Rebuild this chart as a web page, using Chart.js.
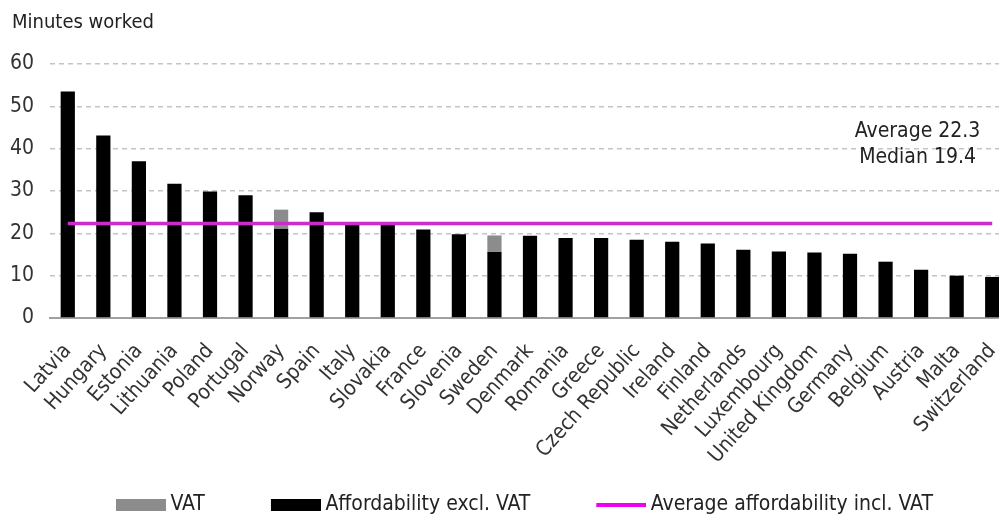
<!DOCTYPE html>
<html>
<head>
<meta charset="utf-8">
<script src="https://cdn.jsdelivr.net/npm/chart.js@4"></script>
<style>
  html, body { margin: 0; padding: 0; background: #fff; overflow: hidden; }
  #wrap { position: absolute; left: 0; top: 0; width: 1010px; height: 521px; }
</style>
</head>
<body>
<div id="wrap"><canvas id="chart"></canvas></div>
<script>
// --- DATA ---
const countries = ['Latvia', 'Hungary', 'Estonia', 'Lithuania', 'Poland', 'Portugal', 'Norway', 'Spain', 'Italy',
    'Slovakia', 'France', 'Slovenia', 'Sweden', 'Denmark', 'Romania', 'Greece', 'Czech Republic', 'Ireland',
    'Finland', 'Netherlands', 'Luxembourg', 'United Kingdom', 'Germany', 'Belgium', 'Austria', 'Malta', 'Switzerland'];

const exclVat = [53.5, 43.1, 37.0, 31.7, 29.9, 29.0, 21.1, 25.0, 22.3,
    22.2, 20.9, 19.8, 15.6, 19.4, 18.9, 18.9, 18.5, 18.0,
    17.6, 16.1, 15.7, 15.5, 15.2, 13.3, 11.4, 10.0, 9.7];

const vat = [0, 0, 0, 0, 0, 0, 4.5, 0, 0,
    0, 0, 0, 3.9, 0, 0, 0, 0, 0,
    0, 0, 0, 0, 0, 0, 0, 0, 0];

const averageInclVat = 22.3;
const medianInclVat = 19.4;
const averageLine = [
    { x: 'Latvia', y: averageInclVat },
    { x: 'Switzerland', y: averageInclVat }
];

const yTicks = [0, 10, 20, 30, 40, 50, 60];
const legendOrder = ['VAT', 'Affordability excl. VAT', 'Average affordability incl. VAT'];

const FONT = 'DejaVu Sans Condensed';
const SWATCH_SPACE = 100; // room each legend item keeps in front of its text

// legend swatch: 50px box (or line) at the right end of a wider transparent image
function swatch(color, h) {
    const c = document.createElement('canvas');
    c.width = SWATCH_SPACE + 12;
    c.height = h;
    const g = c.getContext('2d');
    g.fillStyle = color;
    g.fillRect(c.width - 50, 0, 50, h);
    return c;
}
const swatches = {
    'VAT': swatch('#8c8c8c', 12),
    'Affordability excl. VAT': swatch('#000000', 12),
    'Average affordability incl. VAT': swatch('#f000f0', 4)
};

// --- "Minutes worked" caption and the Average / Median note ---
const notes = {
    id: 'notes',
    afterDraw(chart) {
        const { ctx, scales: { x, y } } = chart;
        ctx.save();
        ctx.fillStyle = '#222';
        ctx.textBaseline = 'middle';
        ctx.font = '20px "' + FONT + '"';
        ctx.textAlign = 'left';
        ctx.fillText('Minutes worked', 12, 23);

        const cx = x.getPixelForValue(23.9);
        ctx.font = '21px "' + FONT + '"';
        ctx.textAlign = 'center';
        ctx.fillText('Average ' + averageInclVat.toFixed(1), cx, y.getPixelForValue(44.1));
        ctx.fillText('Median ' + medianInclVat.toFixed(1), cx, y.getPixelForValue(37.8));
        ctx.restore();
    }
};

new Chart(document.getElementById('chart'), {
    type: 'bar',
    data: {
        labels: countries,
        datasets: [
            {
                label: 'Affordability excl. VAT',
                data: exclVat,
                backgroundColor: '#000000',
                stack: 's',
                categoryPercentage: 1,
                barPercentage: 0.4,
                order: 2
            },
            {
                label: 'VAT',
                data: vat,
                backgroundColor: '#8c8c8c',
                stack: 's',
                categoryPercentage: 1,
                barPercentage: 0.4,
                order: 2
            },
            {
                type: 'line',
                label: 'Average affordability incl. VAT',
                data: averageLine,
                borderColor: '#cc2ccc',
                borderWidth: 3.5,
                pointRadius: 0,
                order: 1
            }
        ]
    },
    options: {
        responsive: true,
        maintainAspectRatio: false,
        animation: false,
        layout: { padding: { left: 8, right: 0, top: 64, bottom: -4 } },
        scales: {
            x: {
                stacked: true,
                grid: { display: false, drawTicks: false },
                border: { display: true, color: '#a0a0a0', width: 2 },
                ticks: {
                    color: '#333',
                    font: { family: FONT, size: 21 },
                    minRotation: 48,
                    maxRotation: 48,
                    autoSkip: false,
                    padding: 21
                },
                afterFit: axis => {
                    axis.paddingLeft = 0;
                    axis.paddingRight = 0;
                    axis.height = 166;
                }
            },
            y: {
                stacked: true,
                min: 0,
                max: 60,
                afterBuildTicks: axis => { axis.ticks = yTicks.map(v => ({ value: v })); },
                afterFit: axis => { axis.width = 42; },
                grid: {
                    color: c => c.tick && c.tick.value === 0 ? 'rgba(0,0,0,0)' : '#c4c4c4',
                    lineWidth: 1.5,
                    drawTicks: false
                },
                border: { display: false, dash: [5, 4] },
                ticks: {
                    color: '#333',
                    font: { family: FONT, size: 21 },
                    padding: 16
                }
            }
        },
        plugins: {
            legend: {
                position: 'bottom',
                align: 'start',
                fullSize: false,
                labels: {
                    color: '#222',
                    font: { family: FONT, size: 21 },
                    usePointStyle: true,
                    pointStyleWidth: SWATCH_SPACE,
                    boxHeight: 12,
                    padding: 10,
                    generateLabels: chart => {
                        const items = Chart.defaults.plugins.legend.labels.generateLabels(chart);
                        items.forEach(it => { it.pointStyle = swatches[it.text]; });
                        return items;
                    },
                    sort: (a, b) => legendOrder.indexOf(a.text) - legendOrder.indexOf(b.text)
                }
            },
            tooltip: { enabled: false }
        }
    },
    plugins: [notes]
});
</script>
</body>
</html>
